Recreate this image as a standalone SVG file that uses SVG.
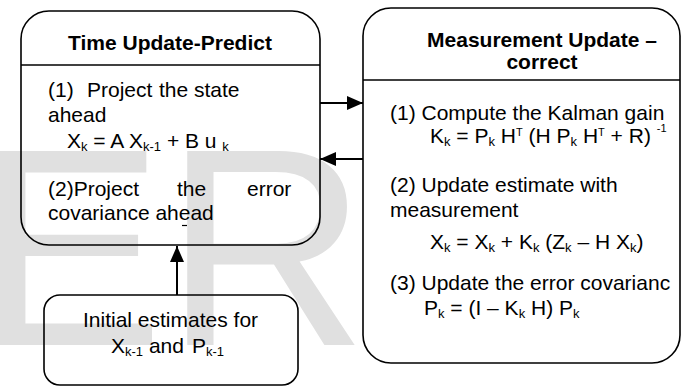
<svg xmlns="http://www.w3.org/2000/svg" width="689" height="387" viewBox="0 0 689 387">
  <defs>
    <marker id="ah" viewBox="0 0 16 14" refX="16" refY="7" markerWidth="16" markerHeight="14" markerUnits="userSpaceOnUse" orient="auto">
      <path d="M0,0 L16,7 L0,14 z" fill="#000"/>
    </marker>
    <style>
      .box { fill: none; stroke: #000; stroke-width: 1.6; }
      .div { stroke: #000; stroke-width: 1.6; }
      .t { font-family: "Liberation Sans", Arial, sans-serif; font-size: 21px; fill: #000; }
      .h { font-family: "Liberation Sans", Arial, sans-serif; font-size: 21px; font-weight: bold; fill: #000; text-anchor: middle; }
      .sub { font-size: 13px; }
      .sup { font-size: 11px; }
      .wm { font-family: "Liberation Sans", Arial, sans-serif; font-size: 282px; fill: #e0e0e0; }
      .conn { stroke: #000; stroke-width: 2; fill: none; marker-end: url(#ah); }
    </style>
  </defs>
  <rect width="689" height="387" fill="#fff"/>
  <text class="wm" x="-24" y="345">ER</text>

  <g id="time-update">
    <rect class="box" x="21" y="11" width="299" height="234" rx="28"/>
    <line class="div" x1="21" y1="65" x2="320" y2="65"/>
    <text class="h" x="170" y="50">Time Update-Predict</text>
    <text class="t" y="97"><tspan x="48">(1)</tspan><tspan x="87">Project</tspan><tspan x="159">the</tspan><tspan x="194">state</tspan></text>
    <text class="t" x="48" y="122">ahead</text>
    <text class="t" x="67" y="148">X<tspan class="sub" dy="3">k</tspan><tspan dy="-3"> = A X</tspan><tspan class="sub" dy="3">k-1</tspan><tspan dy="-3"> + B u </tspan><tspan class="sub" dy="3">k</tspan></text>
    <text class="t" y="196"><tspan x="48">(2)Project</tspan><tspan x="177">the</tspan><tspan x="247">error</tspan></text>
    <text class="t" x="48" y="220">covariance ahead</text>
    <line x1="182" y1="225.5" x2="187" y2="225.5" stroke="#000" stroke-width="1.2"/>
  </g>

  <g id="measurement-update">
    <rect class="box" x="363" y="8" width="317" height="355" rx="28"/>
    <line class="div" x1="363" y1="80" x2="680" y2="80"/>
    <text class="h" x="542" y="47">Measurement Update –</text>
    <text class="h" x="542" y="69">correct</text>
    <text class="t" x="390" y="120">(1) Compute the Kalman gain</text>
    <text class="t" x="430" y="143">K<tspan class="sub" dy="3">k</tspan><tspan dy="-3"> = P</tspan><tspan class="sub" dy="3">k</tspan><tspan dy="-3"> H</tspan><tspan class="sup" dy="-7">T</tspan><tspan dy="7"> (H P</tspan><tspan class="sub" dy="3">k</tspan><tspan dy="-3"> H</tspan><tspan class="sup" dy="-7">T</tspan><tspan dy="7"> + R) </tspan><tspan class="sup" dy="-11">-1</tspan></text>
    <text class="t" x="390" y="192">(2) Update estimate with</text>
    <text class="t" x="390" y="217">measurement</text>
    <text class="t" x="430" y="249">X<tspan class="sub" dy="3">k</tspan><tspan dy="-3"> = X</tspan><tspan class="sub" dy="3">k</tspan><tspan dy="-3"> + K</tspan><tspan class="sub" dy="3">k</tspan><tspan dy="-3"> (Z</tspan><tspan class="sub" dy="3">k</tspan><tspan dy="-3"> – H X</tspan><tspan class="sub" dy="3">k</tspan><tspan dy="-3">)</tspan></text>
    <text class="t" x="390" y="290">(3) Update the error covarianc</text>
    <text class="t" x="424" y="315">P<tspan class="sub" dy="3">k</tspan><tspan dy="-3"> = (I – K</tspan><tspan class="sub" dy="3">k</tspan><tspan dy="-3"> H) P</tspan><tspan class="sub" dy="3">k</tspan></text>
  </g>

  <g id="initial-estimates">
    <rect class="box" x="44" y="295" width="254" height="90" rx="16"/>
    <text class="t" x="83" y="327">Initial estimates for</text>
    <text class="t" y="353"><tspan x="111">X</tspan><tspan class="sub" dy="3">k-1</tspan><tspan dy="-3"> and</tspan><tspan x="192">P</tspan><tspan class="sub" dy="3">k-1</tspan></text>
  </g>

  <g id="connectors">
    <line class="conn" x1="320" y1="103" x2="363" y2="103"/>
    <line class="conn" x1="363" y1="159" x2="320" y2="159"/>
    <line class="conn" x1="177" y1="295" x2="177" y2="246"/>
  </g>
</svg>
